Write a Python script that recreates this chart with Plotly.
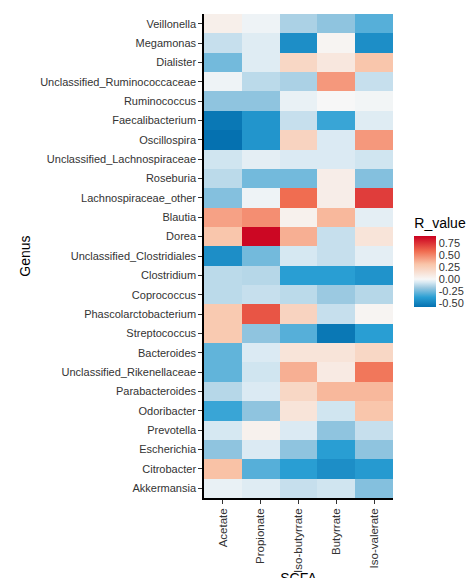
import plotly.graph_objects as go

genus = ["Veillonella","Megamonas","Dialister","Unclassified_Ruminococcaceae","Ruminococcus",
         "Faecalibacterium","Oscillospira","Unclassified_Lachnospiraceae","Roseburia",
         "Lachnospiraceae_other","Blautia","Dorea","Unclassified_Clostridiales","Clostridium",
         "Coprococcus","Phascolarctobacterium","Streptococcus","Bacteroides",
         "Unclassified_Rikenellaceae","Parabacteroides","Odoribacter","Prevotella",
         "Escherichia","Citrobacter","Akkermansia"]
scfa = ["Acetate","Propionate","Iso-butyrrate","Butyrrate","Iso-valerate"]
acetate    = [0.05,-0.1,-0.25,-0.02,-0.2,-0.55,-0.58,-0.08,-0.12,-0.22,0.42,0.3,-0.45,-0.12,-0.12,0.28,0.28,-0.28,-0.28,-0.13,-0.35,-0.07,-0.2,0.32,-0.03]
propionate = [-0.02,-0.05,-0.05,-0.12,-0.2,-0.42,-0.42,-0.04,-0.25,-0.02,0.48,0.88,-0.25,-0.13,-0.1,0.65,-0.2,-0.06,-0.08,-0.06,-0.2,0.04,-0.06,-0.3,-0.05]
isobut     = [-0.15,-0.45,0.2,-0.15,-0.03,-0.1,0.22,-0.06,-0.25,0.58,0.04,0.38,-0.07,-0.38,-0.12,0.22,-0.3,0.12,0.38,0.2,0.12,-0.06,-0.2,-0.38,-0.1]
butyr      = [-0.2,0.02,0.1,0.45,0.0,-0.35,-0.06,-0.06,0.06,0.06,0.35,-0.1,-0.1,-0.38,-0.18,-0.1,-0.55,0.12,0.08,0.35,-0.08,-0.2,-0.38,-0.45,-0.08]
isoval     = [-0.3,-0.45,0.3,-0.1,-0.01,-0.05,0.45,-0.08,-0.22,0.72,-0.04,0.12,-0.04,-0.43,-0.13,0.02,-0.38,0.2,0.55,0.35,0.3,-0.1,-0.2,-0.4,-0.22]

cols = [acetate, propionate, isobut, butyr, isoval]
z = [[c[i] for c in cols] for i in range(len(genus))]

zmin, zmax = -0.58, 0.9
w = (0 - zmin) / (zmax - zmin)
cs = [[0, "#0571b0"], [w*0.35, "#2a9fd4"], [w*0.7, "#9ecae1"], [w*0.88, "#d6e8f2"], [w, "#f7f7f7"],
      [w + (1-w)*0.35, "#f9c4a8"], [w + (1-w)*0.65, "#f06b4f"], [1, "#ca0020"]]

fig = go.Figure(go.Heatmap(
    z=z, x=scfa, y=genus, zmin=zmin, zmax=zmax, colorscale=cs,
    colorbar=dict(title=dict(text="R_value", font=dict(size=14, color="#000")),
                  thickness=22, len=112, lenmode="pixels", x=1.06, xanchor="left",
                  y=0.49, yanchor="middle", tickvals=[-0.5,-0.25,0,0.25,0.5,0.75],
                  ticktext=["-0.50","-0.25","0.00","0.25","0.50","0.75"],
                  tickfont=dict(size=11, color="#333"), outlinewidth=0, ticks="")))
fig.update_layout(width=474, height=578, margin=dict(l=196, r=82, t=6, b=88),
                  paper_bgcolor="white", plot_bgcolor="white",
                  font=dict(family="Liberation Sans, Arial", size=11, color="#333"))
fig.update_xaxes(title=dict(text="SCFA", font=dict(size=14, color="#000"), standoff=6), tickangle=-90,
                 showline=True, linecolor="black", linewidth=1.5, ticks="outside", automargin=False,
                 ticklen=4, tickcolor="#333", showgrid=False, tickfont=dict(size=11.5))
fig.update_yaxes(title=dict(text="Genus", font=dict(size=14, color="#000"), standoff=6), autorange="reversed",
                 showline=True, linecolor="black", linewidth=1.5, ticks="outside", automargin=False,
                 ticklen=4, tickcolor="#333", showgrid=False)
fig.write_html("out.html")
